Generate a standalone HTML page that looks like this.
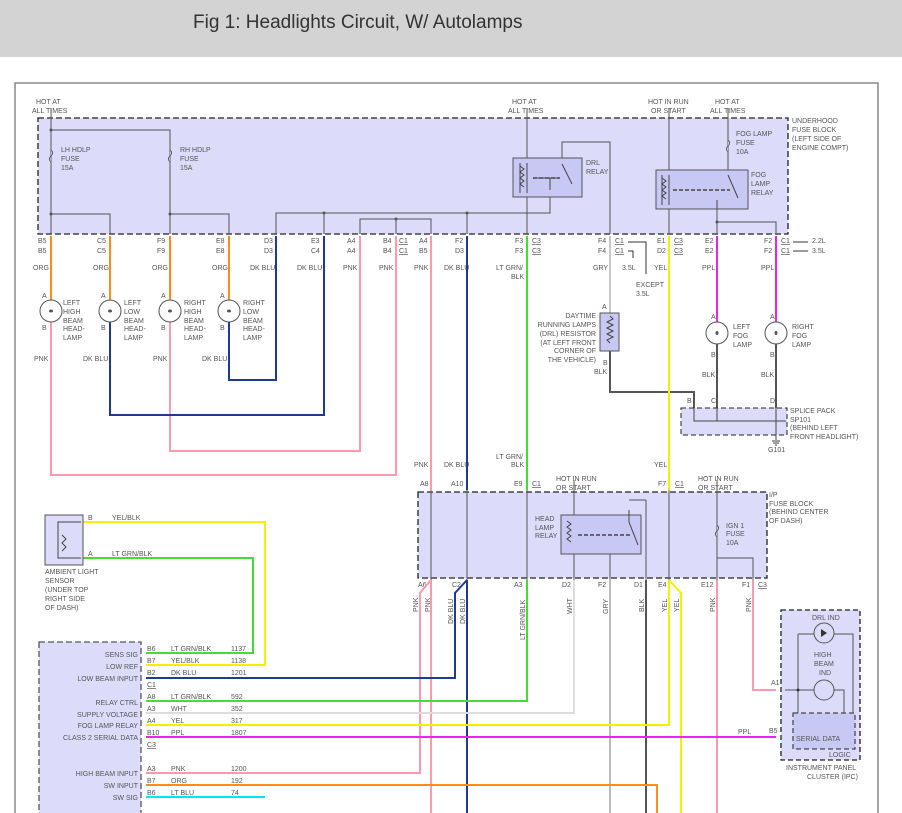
<!DOCTYPE html>
<html><head><meta charset="utf-8"><style>
html,body{margin:0;padding:0;background:#fff;width:902px;height:813px;overflow:hidden}
svg text{font-family:"Liberation Sans",sans-serif;font-size:7px;fill:#555}
</style></head><body>
<svg width="902" height="813" viewBox="0 0 902 813" xmlns="http://www.w3.org/2000/svg">
<rect x="0" y="0" width="902" height="57" fill="#d3d3d3"/>
<text x="193" y="28" style="font-size:19px;fill:#333">Fig 1: Headlights Circuit, W/ Autolamps</text>
<path d="M15 813V83H878V813" fill="none" stroke="#888" stroke-width="1.5"/>

<!-- underhood fuse block -->
<rect x="38" y="118" width="750" height="116" fill="#dcdcfa" stroke="#222" stroke-width="1.3" stroke-dasharray="6,3"/>
<g fill="none" stroke="#555" stroke-width="1">
<path d="M51 108V234M51 130H170V234M51 214H110V234M170 214H229V234"/>
<path d="M276 234V213H550V197M324 213V234M467 213V234M360 234V219H431V234M396 219V234"/>
<path d="M527 108V234M562 158V142H610V234"/>
<path d="M669 108V234M728 108V170M717 209V234M717 222H776V234"/>
</g>
<g fill="#555"><circle cx="51" cy="130" r="1.5"/><circle cx="51" cy="214" r="1.5"/><circle cx="170" cy="214" r="1.5"/><circle cx="324" cy="213" r="1.5"/><circle cx="467" cy="213" r="1.5"/><circle cx="396" cy="219" r="1.5"/><circle cx="717" cy="222" r="1.5"/></g>
<!-- fuses -->
<g fill="#dcdcfa" stroke="#555"><path d="M51 150q3 3 0 6q-3 3 0 6"/><path d="M170 150q3 3 0 6q-3 3 0 6"/><path d="M728 140q3 3 0 6q-3 3 0 6"/></g>
<text x="61" y="152">LH HDLP</text><text x="61" y="161">FUSE</text><text x="61" y="170">15A</text>
<text x="180" y="152">RH HDLP</text><text x="180" y="161">FUSE</text><text x="180" y="170">15A</text>
<text x="736" y="136">FOG LAMP</text><text x="736" y="145">FUSE</text><text x="736" y="154">10A</text>
<!-- DRL relay -->
<rect x="513" y="158" width="69" height="39" fill="#c8c8f4" stroke="#555"/>
<path d="M520 163V193M527 163V193M550 178V190M562 164L572 184M533 178H560" stroke="#444" fill="none" stroke-dasharray="0"/>
<path d="M533 178H560" stroke="#444" stroke-dasharray="4,2" stroke-width="1.5"/>
<path d="M520 166l4 3-4 3 4 3-4 3 4 3-4 3 4 3" stroke="#444" fill="none"/>
<text x="586" y="165">DRL</text><text x="586" y="174">RELAY</text>
<!-- fog relay -->
<rect x="656" y="170" width="92" height="39" fill="#c8c8f4" stroke="#555"/>
<path d="M662 175V205M669 175V205M717 200V209M728 175L738 198" stroke="#444" fill="none"/>
<path d="M673 190H730" stroke="#444" stroke-dasharray="4,2" stroke-width="1.5"/>
<path d="M662 178l4 3-4 3 4 3-4 3 4 3-4 3 4 3" stroke="#444" fill="none"/>
<text x="751" y="177">FOG</text><text x="751" y="186">LAMP</text><text x="751" y="195">RELAY</text>
<text x="36" y="104">HOT AT</text><text x="32" y="113">ALL TIMES</text>
<text x="512" y="104">HOT AT</text><text x="508" y="113">ALL TIMES</text>
<text x="648" y="104">HOT IN RUN</text><text x="651" y="113">OR START</text>
<text x="715" y="104">HOT AT</text><text x="710" y="113">ALL TIMES</text>
<text x="792" y="123">UNDERHOOD</text><text x="792" y="132">FUSE BLOCK</text><text x="792" y="141">(LEFT SIDE OF</text><text x="792" y="150">ENGINE COMPT)</text>

<!-- connector labels row -->
<g>
<text x="38" y="243">B5</text><text x="38" y="253">B5</text>
<text x="97" y="243">C5</text><text x="97" y="253">C5</text>
<text x="157" y="243">F9</text><text x="157" y="253">F9</text>
<text x="216" y="243">E8</text><text x="216" y="253">E8</text>
<text x="264" y="243">D3</text><text x="264" y="253">D3</text>
<text x="311" y="243">E3</text><text x="311" y="253">C4</text>
<text x="347" y="243">A4</text><text x="347" y="253">A4</text>
<text x="383" y="243">B4</text><text x="383" y="253">B4</text>
<text x="399" y="243" text-decoration="underline">C1</text><text x="399" y="253" text-decoration="underline">C1</text>
<text x="419" y="243">A4</text><text x="419" y="253">B5</text>
<text x="455" y="243">F2</text><text x="455" y="253">D3</text>
<text x="515" y="243">F3</text><text x="515" y="253">F3</text>
<text x="532" y="243" text-decoration="underline">C3</text><text x="532" y="253" text-decoration="underline">C3</text>
<text x="598" y="243">F4</text><text x="598" y="253">F4</text>
<text x="615" y="243" text-decoration="underline">C1</text><text x="615" y="253" text-decoration="underline">C1</text>
<text x="657" y="243">E1</text><text x="657" y="253">D2</text>
<text x="674" y="243" text-decoration="underline">C3</text><text x="674" y="253" text-decoration="underline">C3</text>
<text x="705" y="243">E2</text><text x="705" y="253">E2</text>
<text x="764" y="243">F2</text><text x="764" y="253">F2</text>
<text x="781" y="243" text-decoration="underline">C1</text><text x="781" y="253" text-decoration="underline">C1</text>
<text x="812" y="243">2.2L</text><text x="812" y="253">3.5L</text>
<text x="622" y="270">3.5L</text><text x="636" y="287">EXCEPT</text><text x="636" y="296">3.5L</text>
</g>
<path d="M628 242H646V274M628 251H633V258M793 242H808M793 251H808" stroke="#333" fill="none"/>
<!-- color labels -->
<text x="33" y="270">ORG</text><text x="93" y="270">ORG</text><text x="152" y="270">ORG</text><text x="212" y="270">ORG</text>
<text x="250" y="270">DK BLU</text><text x="297" y="270">DK BLU</text><text x="343" y="270">PNK</text><text x="379" y="270">PNK</text><text x="414" y="270">PNK</text><text x="444" y="270">DK BLU</text>
<text x="496" y="270">LT GRN/</text><text x="511" y="279">BLK</text><text x="593" y="270">GRY</text><text x="654" y="270">YEL</text><text x="702" y="270">PPL</text><text x="761" y="270">PPL</text>

<!-- wires top region -->
<g fill="none" stroke-width="2">
<path d="M51 236V300M110 236V300M170 236V300M229 236V300" stroke="#ff8c1a"/>
<path d="M51 322V475H396V236M170 322V451H360V236" stroke="#ff9aae"/>
<path d="M110 322V415H324V236M229 322V380H276V236" stroke="#1f3a93"/>
<path d="M431 236V490" stroke="#ff9aae"/>
<path d="M467 236V490" stroke="#1f3a93"/>
<path d="M527 236V490" stroke="#44dd33"/>
<path d="M610 236V313" stroke="#c8c8c8"/>
<path d="M610 351V392H694V408" stroke="#555"/>
<path d="M669 236V490" stroke="#f5f000"/>
<path d="M717 236V322M776 236V322" stroke="#ee22ee"/>
<path d="M717 344V408M776 344V408" stroke="#555"/>
</g>
<!-- headlamps -->
<g fill="none" stroke="#555">
<circle cx="51" cy="311" r="11"/><circle cx="110" cy="311" r="11"/><circle cx="170" cy="311" r="11"/><circle cx="229" cy="311" r="11"/>
<circle cx="717" cy="333" r="11"/><circle cx="776" cy="333" r="11"/>
</g>
<g fill="#555"><ellipse cx="51" cy="311" rx="2" ry="1.5"/><ellipse cx="110" cy="311" rx="2" ry="1.5"/><ellipse cx="170" cy="311" rx="2" ry="1.5"/><ellipse cx="229" cy="311" rx="2" ry="1.5"/><ellipse cx="717" cy="333" rx="1.5" ry="2"/><ellipse cx="776" cy="333" rx="1.5" ry="2"/></g>
<text x="42" y="298">A</text><text x="42" y="330">B</text><text x="63" y="305">LEFT</text><text x="63" y="314">HIGH</text><text x="63" y="323">BEAM</text><text x="63" y="331">HEAD-</text><text x="63" y="340">LAMP</text>
<text x="101" y="298">A</text><text x="101" y="330">B</text><text x="124" y="305">LEFT</text><text x="124" y="314">LOW</text><text x="124" y="323">BEAM</text><text x="124" y="331">HEAD-</text><text x="124" y="340">LAMP</text>
<text x="161" y="298">A</text><text x="161" y="330">B</text><text x="184" y="305">RIGHT</text><text x="184" y="314">HIGH</text><text x="184" y="323">BEAM</text><text x="184" y="331">HEAD-</text><text x="184" y="340">LAMP</text>
<text x="220" y="298">A</text><text x="220" y="330">B</text><text x="243" y="305">RIGHT</text><text x="243" y="314">LOW</text><text x="243" y="323">BEAM</text><text x="243" y="331">HEAD-</text><text x="243" y="340">LAMP</text>
<text x="34" y="361">PNK</text><text x="83" y="361">DK BLU</text><text x="153" y="361">PNK</text><text x="202" y="361">DK BLU</text>
<text x="414" y="467">PNK</text><text x="444" y="467">DK BLU</text><text x="496" y="459">LT GRN/</text><text x="511" y="467">BLK</text><text x="654" y="467">YEL</text>
<!-- DRL resistor -->
<rect x="600" y="313" width="19" height="38" fill="#c8c8f4" stroke="#555"/>
<path d="M610 316l3 3-6 3 6 3-6 3 6 3-6 3 6 3-6 3 3 3" fill="none" stroke="#444"/>
<text x="602" y="309">A</text><text x="603" y="365">B</text><text x="594" y="374">BLK</text>
<g style="text-anchor:end"><text x="596" y="318">DAYTIME</text><text x="596" y="327">RUNNING LAMPS</text><text x="596" y="336">(DRL) RESISTOR</text><text x="596" y="345">(AT LEFT FRONT</text><text x="596" y="353">CORNER OF</text><text x="596" y="362">THE VEHICLE)</text></g>
<text x="711" y="319">A</text><text x="711" y="357">B</text><text x="733" y="329">LEFT</text><text x="733" y="338">FOG</text><text x="733" y="347">LAMP</text>
<text x="770" y="319">A</text><text x="770" y="357">B</text><text x="792" y="329">RIGHT</text><text x="792" y="338">FOG</text><text x="792" y="347">LAMP</text>
<text x="702" y="377">BLK</text><text x="761" y="377">BLK</text>
<!-- splice pack -->
<rect x="681" y="408" width="106" height="27" fill="#dcdcfa" stroke="#222" stroke-dasharray="5,3"/>
<path d="M694 408V421H786M717 408V421M776 408V440M772 441h8M773 443h6M775 445h2" stroke="#444" fill="none"/>
<text x="687" y="403">B</text><text x="711" y="403">C</text><text x="770" y="403">D</text>
<text x="790" y="413">SPLICE PACK</text><text x="790" y="422">SP101</text><text x="790" y="430">(BEHIND LEFT</text><text x="790" y="439">FRONT HEADLIGHT)</text><text x="768" y="452">G101</text>

<!-- IP fuse block -->
<rect x="418" y="492" width="349" height="86" fill="#dcdcfa" stroke="#222" stroke-width="1.3" stroke-dasharray="6,3"/>
<g fill="none" stroke="#555"><path d="M431 490V580M467 490V580M527 490V580M574 480V580M610 545V580M646 500V580M629 500H646M669 490V580M717 480V580M717 558H753V580"/></g>
<rect x="561" y="515" width="80" height="39" fill="#c8c8f4" stroke="#555"/>
<path d="M567 521l4 3-4 3 4 3-4 3 4 3-4 3 4 3M629 510V522L638 545" stroke="#444" fill="none"/>
<path d="M578 535H630" stroke="#444" stroke-dasharray="4,2" stroke-width="1.5"/>
<path d="M717 525q3 3 0 6q-3 3 0 6" stroke="#555" fill="#dcdcfa"/>
<text x="535" y="521">HEAD</text><text x="535" y="530">LAMP</text><text x="535" y="538">RELAY</text>
<text x="726" y="528">IGN 1</text><text x="726" y="536">FUSE</text><text x="726" y="545">10A</text>
<text x="556" y="481">HOT IN RUN</text><text x="556" y="490">OR START</text>
<text x="698" y="481">HOT IN RUN</text><text x="698" y="490">OR START</text>
<text x="769" y="497">I/P</text><text x="769" y="506">FUSE BLOCK</text><text x="769" y="514">(BEHIND CENTER</text><text x="769" y="523">OF DASH)</text>
<text x="420" y="486">A8</text><text x="451" y="486">A10</text><text x="514" y="486">E9</text><text x="532" y="486" text-decoration="underline">C1</text><text x="658" y="486">F7</text><text x="675" y="486" text-decoration="underline">C1</text>
<text x="418" y="587">A6</text><text x="452" y="587">C2</text><text x="514" y="587">A3</text><text x="562" y="587">D2</text><text x="598" y="587">F2</text><text x="634" y="587">D1</text><text x="658" y="587">E4</text><text x="701" y="587">E12</text><text x="742" y="587">F1</text><text x="758" y="587" text-decoration="underline">C3</text>

<!-- lower wires -->
<g fill="none" stroke-width="2">
<path d="M431 580L420 593V773H146M431 580V813M753 580V690H776" stroke="#ff9aae"/>
<path d="M717 580V813" stroke="#ff9aae"/>
<path d="M467 580L455 593V678H146M467 580V813" stroke="#1f3a93"/>
<path d="M527 580V701H146M83 558H253V653H146" stroke="#44dd33"/>
<path d="M574 580V713H146" stroke="#dddddd"/>
<path d="M610 580V813" stroke="#bbbbbb"/>
<path d="M646 580V813" stroke="#555"/>
<path d="M669 580V725H146M669 580L681 593V813M83 522H265V665H146" stroke="#f5f000"/>
<path d="M146 737H776" stroke="#ee22ee"/>
<path d="M146 785H657V813" stroke="#ff8c1a"/>
<path d="M146 797H265" stroke="#00e5ff"/>
</g>
<g style="font-size:7px">
<text transform="translate(418,612) rotate(-90)">PNK</text><text transform="translate(430,612) rotate(-90)">PNK</text>
<text transform="translate(453,624) rotate(-90)">DK BLU</text><text transform="translate(465,624) rotate(-90)">DK BLU</text>
<text transform="translate(525,640) rotate(-90)">LT GRN/BLK</text><text transform="translate(572,614) rotate(-90)">WHT</text>
<text transform="translate(608,614) rotate(-90)">GRY</text><text transform="translate(644,612) rotate(-90)">BLK</text>
<text transform="translate(667,612) rotate(-90)">YEL</text><text transform="translate(679,612) rotate(-90)">YEL</text>
<text transform="translate(715,612) rotate(-90)">PNK</text><text transform="translate(751,612) rotate(-90)">PNK</text>
</g>
<!-- ambient sensor -->
<rect x="45" y="515" width="38" height="50" fill="#dcdcfa" stroke="#555"/>
<path d="M81 522H58V558H81M62 535l4 4-4 4 4 4-4 4" fill="none" stroke="#444"/>
<text x="88" y="520">B</text><text x="112" y="520">YEL/BLK</text><text x="88" y="556">A</text><text x="112" y="556">LT GRN/BLK</text>
<text x="45" y="574">AMBIENT LIGHT</text><text x="45" y="583">SENSOR</text><text x="45" y="592">(UNDER TOP</text><text x="45" y="601">RIGHT SIDE</text><text x="45" y="610">OF DASH)</text>
<!-- module -->
<rect x="39" y="642" width="102" height="180" fill="#dcdcfa" stroke="#555" stroke-width="1.3" stroke-dasharray="6,3"/>
<g style="text-anchor:end"><text x="138" y="657">SENS SIG</text><text x="138" y="669">LOW REF</text><text x="138" y="681">LOW BEAM INPUT</text><text x="138" y="705">RELAY CTRL</text><text x="138" y="717">SUPPLY VOLTAGE</text><text x="138" y="728">FOG LAMP RELAY</text><text x="138" y="740">CLASS 2 SERIAL DATA</text><text x="138" y="776">HIGH BEAM INPUT</text><text x="138" y="788">SW INPUT</text><text x="138" y="800">SW SIG</text></g>
<g><text x="147" y="651">B6</text><text x="171" y="651">LT GRN/BLK</text><text x="231" y="651">1137</text>
<text x="147" y="663">B7</text><text x="171" y="663">YEL/BLK</text><text x="231" y="663">1138</text>
<text x="147" y="675">B2</text><text x="171" y="675">DK BLU</text><text x="231" y="675">1201</text>
<text x="147" y="687" text-decoration="underline">C1</text>
<text x="147" y="699">A8</text><text x="171" y="699">LT GRN/BLK</text><text x="231" y="699">592</text>
<text x="147" y="711">A3</text><text x="171" y="711">WHT</text><text x="231" y="711">352</text>
<text x="147" y="723">A4</text><text x="171" y="723">YEL</text><text x="231" y="723">317</text>
<text x="147" y="735">B10</text><text x="171" y="735">PPL</text><text x="231" y="735">1807</text>
<text x="147" y="747" text-decoration="underline">C3</text>
<text x="147" y="771">A3</text><text x="171" y="771">PNK</text><text x="231" y="771">1200</text>
<text x="147" y="783">B7</text><text x="171" y="783">ORG</text><text x="231" y="783">192</text>
<text x="147" y="795">B6</text><text x="171" y="795">LT BLU</text><text x="231" y="795">74</text></g>
<!-- IPC -->
<rect x="781" y="610" width="79" height="150" fill="#dcdcfa" stroke="#222" stroke-width="1.3" stroke-dasharray="5,3"/>
<rect x="793" y="713" width="62" height="36" fill="#c8c8f4" stroke="#222" stroke-dasharray="5,3"/>
<path d="M785 690H798M798 634V713M798 634H853V713M798 690H844V713" stroke="#555" fill="none"/>
<circle cx="824" cy="633" r="10" fill="#dcdcfa" stroke="#555"/><circle cx="824" cy="690" r="10" fill="#dcdcfa" stroke="#555"/>
<path d="M821 629v8l6-4z" fill="#333"/><circle cx="798" cy="690" r="1.5" fill="#333"/>
<text x="812" y="620">DRL IND</text><text x="814" y="657">HIGH</text><text x="814" y="666">BEAM</text><text x="819" y="675">IND</text>
<text x="796" y="741">SERIAL DATA</text><text x="829" y="757">LOGIC</text>
<text x="786" y="770">INSTRUMENT PANEL</text><text x="807" y="779">CLUSTER (IPC)</text>
<text x="771" y="685">A1</text><text x="769" y="733">B5</text><text x="738" y="734">PPL</text>
</svg>
</body></html>
